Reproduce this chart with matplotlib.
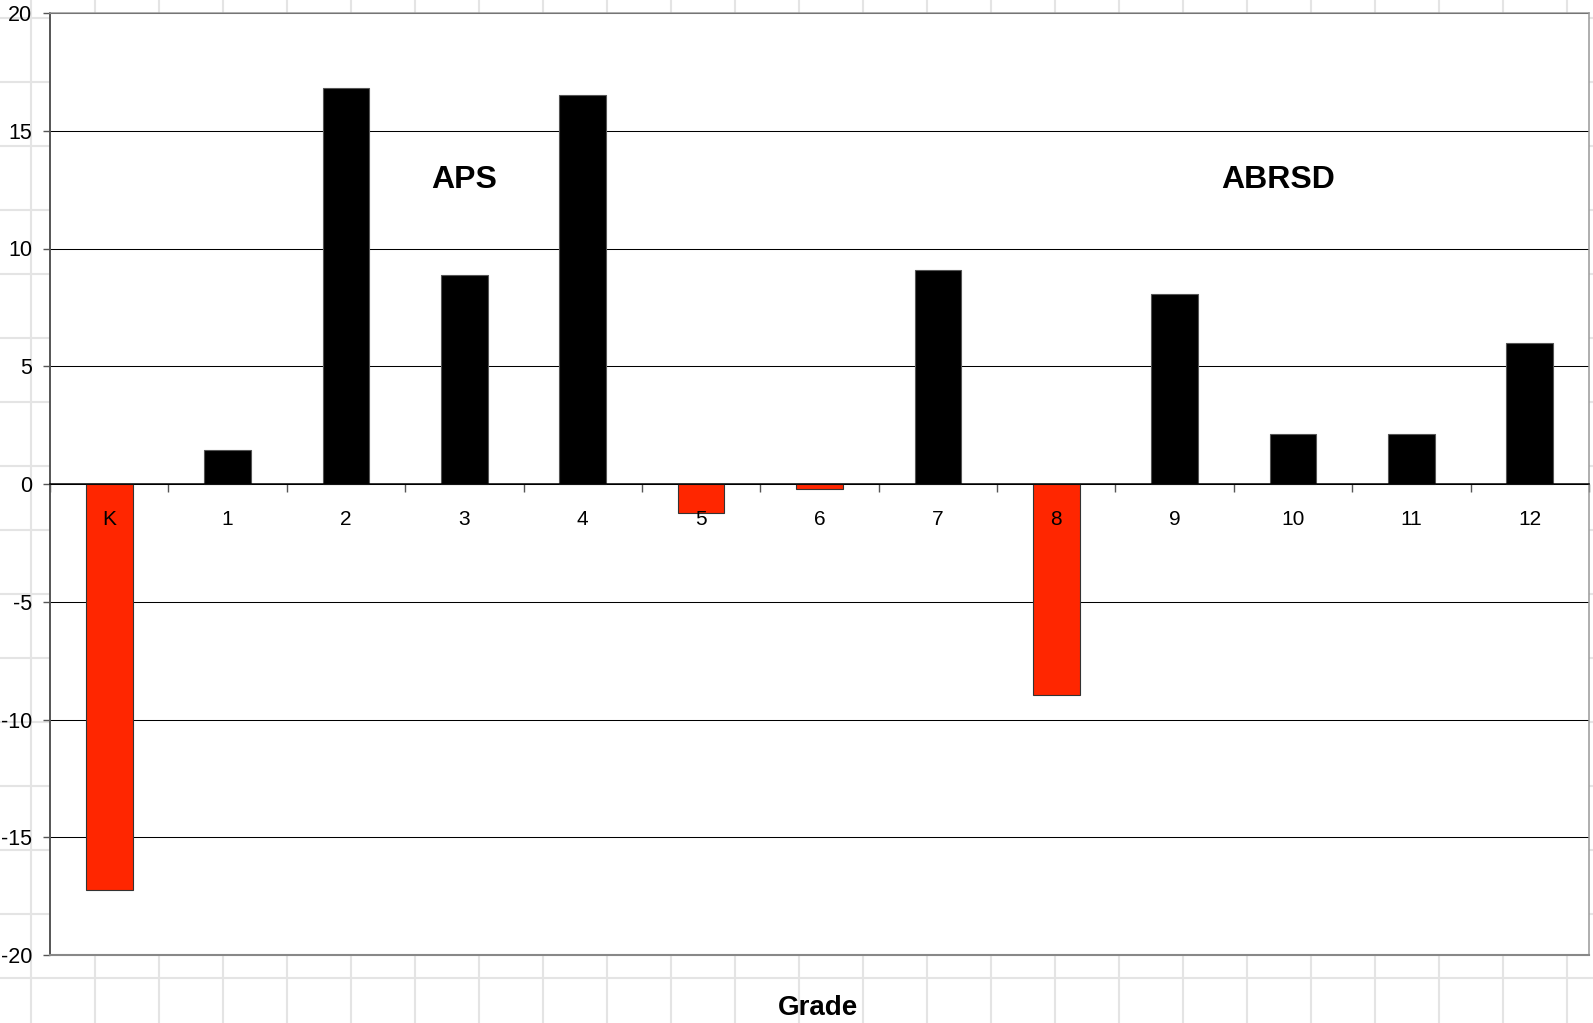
import numpy as np
import matplotlib
matplotlib.use('Agg')
import matplotlib.pyplot as plt
from matplotlib.lines import Line2D

plt.rcParams['font.family'] = ['Liberation Sans', 'DejaVu Sans']
plt.rcParams['axes.unicode_minus'] = False

# Data
grades = ['K', '1', '2', '3', '4', '5', '6', '7', '8', '9', '10', '11', '12']
values = [-17.25, 1.45, 16.8, 8.87, 16.5, -1.22, -0.23, 9.09, -8.96, 8.08, 2.12, 2.12, 6.0]
group_labels = ['APS', 'ABRSD']
group_pos = [(3.0, 12.9), (9.87, 12.9)]

W, H = 1593, 1023
fig = plt.figure(figsize=(W / 100, H / 100), dpi=100)

# spreadsheet cell grid in the background
for gx in np.arange(31, W, 64):
    fig.add_artist(Line2D([gx / W, gx / W], [0, 1], color='#e4e4e4', lw=1.5, zorder=0))
for gy in np.arange(17.7, H, 64):
    fig.add_artist(Line2D([0, 1], [1 - gy / H, 1 - gy / H], color='#e4e4e4', lw=1.5, zorder=0))

ax = fig.add_axes([50 / W, 1 - 955 / H, (1589 - 50) / W, (955 - 13) / H])
ax.set_facecolor('white')

x = np.arange(len(grades))
colors = ['#ff2600' if v < 0 else 'black' for v in values]
edges = ['#333333' if v < 0 else '#555555' for v in values]
ax.bar(x, values, width=0.394, color=colors, edgecolor=edges, linewidth=0.8, zorder=2)

ax.set_xlim(-0.5, len(grades) - 0.5)
ax.set_ylim(-20, 20)
ax.set_yticks(np.arange(-20, 21, 5))
ax.yaxis.grid(True, color='black', lw=0.75)
ax.set_axisbelow(True)

# x axis sits on zero
ax.spines['bottom'].set_position(('data', 0))
ax.spines['bottom'].set_color('black')
ax.spines['bottom'].set_linewidth(1.1)
ax.spines['bottom'].set_zorder(3)
ax.spines['left'].set_color('#555555')
ax.spines['left'].set_linewidth(1.4)
for s in ['top', 'right']:
    ax.spines[s].set_color('#999999')
    ax.spines[s].set_linewidth(1.1)
ax.axhline(-20, color='#888888', lw=1.5, clip_on=False, zorder=3)

# category labels drawn as text so they sit above the bars
ax.set_xticks(np.arange(-0.5, len(grades)))
ax.set_xticklabels([])
ax.tick_params(axis='x', length=5.8, width=1, color='#555555', direction='out')
for xi, g in zip(x, grades):
    ax.annotate(g, (xi, 0), xytext=(0, -19), textcoords='offset points',
                ha='center', va='top', fontsize=15, zorder=5)

ax.tick_params(axis='y', length=5, width=1, color='#555555', labelsize=15.5, pad=8)

for lab, (tx, ty) in zip(group_labels, group_pos):
    ax.text(tx, ty, lab, fontsize=23, fontweight='bold', ha='center', va='center')

fig.text(818 / W, 1 - 1008 / H, 'Grade', fontsize=20, fontweight='bold', ha='center', va='center')

fig.savefig('out.png', dpi=100, facecolor='white')
